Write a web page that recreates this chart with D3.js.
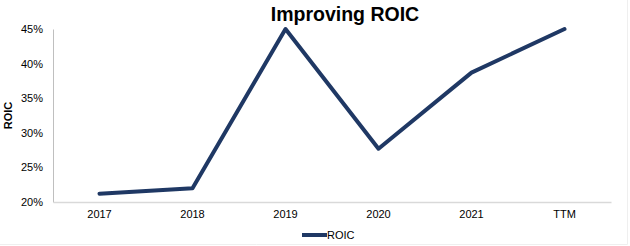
<!DOCTYPE html>
<html>
<head>
<meta charset="utf-8">
<script src="https://cdn.jsdelivr.net/npm/d3@7"></script>
<style>
  body { margin: 0; background: #fff; }
  svg { display: block; font-family: Arial, "Liberation Sans", sans-serif; }
</style>
</head>
<body>
<div id="chart"></div>
<script>
// chart data
const categories = ['2017', '2018', '2019', '2020', '2021', 'TTM']
const roicValues = [21.2, 22.0, 45.0, 27.7, 38.7, 45.0]
const yTicks = [20, 25, 30, 35, 40, 45]

const W = 630, H = 246
const m = { top: 29, right: 19, bottom: 44, left: 53 } // plot area margins

const svg = d3.select('#chart').append('svg')
    .attr('width', W)
    .attr('height', H)

// faint frame, only right + bottom edges show in the original
svg.append('path')
    .attr('d', `M ${W - 2.5},0 L ${W - 2.5},${H - 1.5} L 0,${H - 1.5}`)
    .style('fill', 'none')
    .style('stroke', '#efefef')

const x = d3.scaleBand()
    .domain(categories)
    .range([m.left, W - m.right])

const y = d3.scaleLinear()
    .domain([20, 45])
    .range([H - m.bottom, m.top])

// y axis
const yAxis = svg.append('g')
    .attr('transform', `translate(${m.left},0)`)
    .call(d3.axisLeft(y).tickValues(yTicks).tickSize(0).tickPadding(10).tickFormat(d => d + '%'))
yAxis.select('.domain').style('stroke', '#bfbfbf')
yAxis.selectAll('text').style('font-size', '11px').style('fill', '#000')

// x axis
const xAxis = svg.append('g')
    .attr('transform', `translate(0,${H - m.bottom})`)
    .call(d3.axisBottom(x).tickSize(0).tickPadding(8))
xAxis.select('.domain').style('stroke', '#d9d9d9').style('stroke-width', 1.5)
xAxis.selectAll('text').style('font-size', '11px').style('fill', '#000')

// the line
const line = d3.line()
    .x((d, i) => x(categories[i]) + x.bandwidth() / 2)
    .y(d => y(d))

svg.append('path')
    .datum(roicValues)
    .attr('d', line)
    .style('fill', 'none')
    .style('stroke', '#1f3864')
    .style('stroke-width', 4)
    .style('stroke-linejoin', 'round')
    .style('stroke-linecap', 'round')

// title
svg.append('text')
    .attr('x', 345).attr('y', 21)
    .attr('text-anchor', 'middle')
    .style('font-size', '19.5px')
    .style('font-weight', 'bold')
    .text('Improving ROIC')

// y axis title
svg.append('text')
    .attr('transform', `translate(12,${(m.top + H - m.bottom) / 2}) rotate(-90)`)
    .attr('text-anchor', 'middle')
    .style('font-size', '11px')
    .style('font-weight', 'bold')
    .text('ROIC')

// legend
const lg = svg.append('g').attr('transform', 'translate(302,235)')
lg.append('line')
    .attr('x1', 0).attr('x2', 25)
    .style('stroke', '#1f3864')
    .style('stroke-width', 4)
lg.append('text')
    .attr('x', 25).attr('y', 4)
    .style('font-size', '11px')
    .text('ROIC')
</script>
</body>
</html>
